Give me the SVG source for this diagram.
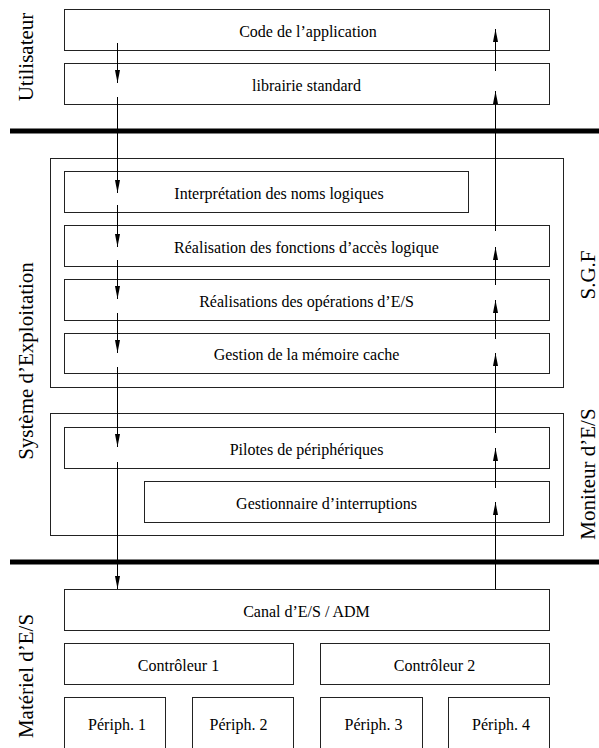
<svg xmlns="http://www.w3.org/2000/svg" width="599" height="748" viewBox="0 0 599 748">
<style>
.box{fill:#fff;stroke:#222;stroke-width:1}
.frame{fill:none;stroke:#222;stroke-width:1}
.t{font-family:'Liberation Serif','Times New Roman',Times,serif;font-size:16px;fill:#000;text-anchor:middle}
.lab{font-family:'Liberation Serif','Times New Roman',Times,serif;font-size:21px;fill:#000;text-anchor:middle}
.sep{stroke:#000;stroke-width:5}
.dn,.up{stroke:#000;stroke-width:1;fill:none;marker-end:url(#ah)}
</style>
<defs>
<marker id="ah" markerUnits="userSpaceOnUse" markerWidth="13" markerHeight="5" refX="13" refY="2.5" orient="auto">
<path d="M0,0 L13,2.5 L0,5 z" fill="#000"/>
</marker>
</defs>
<rect width="599" height="748" fill="#fff"/>

<g id="separators">
<line class="sep" x1="10" y1="131" x2="599" y2="131"/>
<line class="sep" x1="10" y1="562" x2="599" y2="562"/>
</g>

<g id="labels">
<text class="lab" transform="translate(33,57) rotate(-90)">Utilisateur</text>
<text class="lab" transform="translate(33,361) rotate(-90)">Système d’Exploitation</text>
<text class="lab" transform="translate(33,676) rotate(-90)">Matériel d’E/S</text>
<text class="lab" transform="translate(595,275) rotate(-90)">S.G.F</text>
<text class="lab" transform="translate(595,474) rotate(-90)">Moniteur d’E/S</text>
</g>

<g id="sgf"><rect class="frame" x="50.5" y="158.5" width="513" height="229"/></g>
<g id="moniteur"><rect class="frame" x="50.5" y="413.5" width="513" height="122"/></g>

<g id="code"><rect class="box" x="64.5" y="9.5" width="485" height="41"/><text class="t" x="308" y="37">Code de l’application</text></g>
<g id="librairie"><rect class="box" x="64.5" y="63.5" width="485" height="41"/><text class="t" x="306.5" y="91">librairie standard</text></g>
<g id="interpretation"><rect class="box" x="64.5" y="171.5" width="404" height="41"/><text class="t" x="279" y="199">Interprétation des noms logiques</text></g>
<g id="fonctions"><rect class="box" x="64.5" y="225.5" width="485" height="41"/><text class="t" x="306.5" y="253">Réalisation des fonctions d’accès logique</text></g>
<g id="operations"><rect class="box" x="64.5" y="279.5" width="485" height="41"/><text class="t" x="306.5" y="307">Réalisations des opérations d’E/S</text></g>
<g id="cache"><rect class="box" x="64.5" y="333.5" width="485" height="40"/><text class="t" x="306.5" y="360">Gestion de la mémoire cache</text></g>
<g id="pilotes"><rect class="box" x="64.5" y="427.5" width="485" height="41"/><text class="t" x="306.5" y="455">Pilotes de périphériques</text></g>
<g id="interruptions"><rect class="box" x="144.5" y="481.5" width="405" height="41"/><text class="t" x="326.5" y="509">Gestionnaire d’interruptions</text></g>
<g id="canal"><rect class="box" x="64.5" y="589.5" width="485" height="41"/><text class="t" x="306.5" y="617">Canal d’E/S / ADM</text></g>
<g id="controleur1"><rect class="box" x="64.5" y="643.5" width="229" height="41"/><text class="t" x="178.5" y="671">Contrôleur 1</text></g>
<g id="controleur2"><rect class="box" x="320.5" y="643.5" width="229" height="41"/><text class="t" x="434.5" y="671">Contrôleur 2</text></g>
<g id="periph1"><rect class="box" x="64.5" y="697.5" width="101" height="70"/><text class="t" x="117" y="730">Périph. 1</text></g>
<g id="periph2"><rect class="box" x="192.5" y="697.5" width="101" height="70"/><text class="t" x="238.5" y="730">Périph. 2</text></g>
<g id="periph3"><rect class="box" x="320.5" y="697.5" width="102" height="70"/><text class="t" x="373.5" y="730">Périph. 3</text></g>
<g id="periph4"><rect class="box" x="448.5" y="697.5" width="101" height="70"/><text class="t" x="501" y="730">Périph. 4</text></g>

<g id="connectors">
<line class="dn" x1="117.5" y1="43" x2="117.5" y2="83"/>
<line class="dn" x1="117.5" y1="97" x2="117.5" y2="193"/>
<line class="dn" x1="117.5" y1="205" x2="117.5" y2="247"/>
<line class="dn" x1="117.5" y1="260" x2="117.5" y2="299"/>
<line class="dn" x1="117.5" y1="313" x2="117.5" y2="353"/>
<line class="dn" x1="117.5" y1="367" x2="117.5" y2="447"/>
<line class="dn" x1="117.5" y1="462" x2="117.5" y2="589"/>
<line class="up" x1="495.5" y1="71" x2="495.5" y2="29"/>
<line class="up" x1="495.5" y1="231" x2="495.5" y2="91"/>
<line class="up" x1="495.5" y1="285" x2="495.5" y2="247"/>
<line class="up" x1="495.5" y1="339" x2="495.5" y2="300"/>
<line class="up" x1="495.5" y1="433" x2="495.5" y2="353"/>
<line class="up" x1="495.5" y1="488" x2="495.5" y2="448"/>
<line class="up" x1="495.5" y1="589" x2="495.5" y2="502"/>
</g>
</svg>
